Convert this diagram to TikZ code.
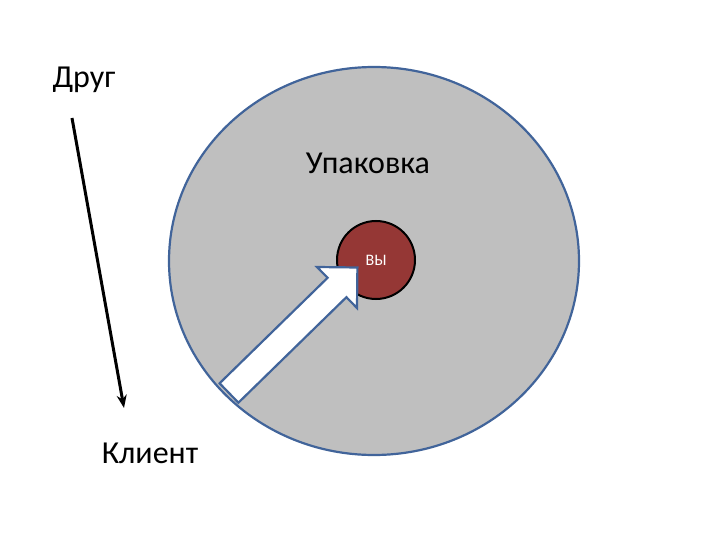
\documentclass[tikz,border=0pt]{standalone}
\usepackage{fontspec}
\setmainfont{Carlito}
\usetikzlibrary{arrows.meta,shapes.geometric}
\definecolor{pgray}{HTML}{BFBFBF}
\definecolor{pblue}{HTML}{41649A}
\definecolor{pred}{HTML}{953735}
\begin{document}
\begin{tikzpicture}[x=1pt,y=-1pt,
  lbl/.style={inner sep=0pt,font=\fontsize{32}{36}\selectfont}]
\useasboundingbox (0,0) rectangle (720,540);
\node[draw=pblue,line width=2.2pt,fill=pgray,ellipse,minimum width=410pt,minimum height=388pt,inner sep=0pt] (pack) at (374,261) {};
\node[draw=black,line width=2pt,fill=pred,circle,minimum size=78pt,inner sep=0pt,text=white,font=\fontsize{16}{18}\selectfont] (you) at (376,260) {ВЫ};
\draw[draw=pblue,line width=2.2pt,fill=white,line join=miter]
  (219.6,383.3) -- (327.6,277.8) -- (317,267) -- (357.4,267.5) -- (357,308) -- (346.4,297.2) -- (238.4,402.7) -- cycle;
\node[lbl] (pk) at (368,163) {Упаковка};
\node[lbl] (friend) at (84,80) {Друг};
\node[lbl] (client) at (150,453) {Клиент};
\coordinate (a1) at (72,118);
\coordinate (a2) at (124,408);
\draw[line width=3pt,-{Stealth[length=13pt,width=10pt]}] (a1) -- (a2);
\end{tikzpicture}
\end{document}
